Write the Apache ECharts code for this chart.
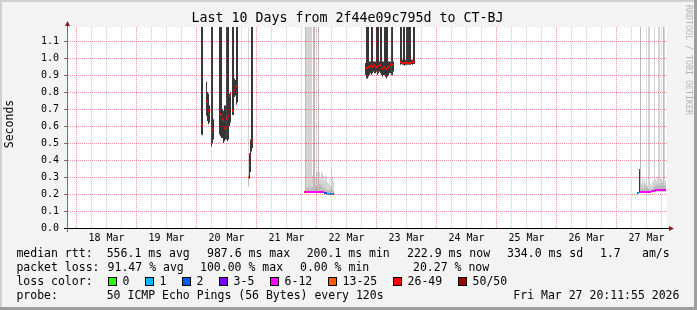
<!DOCTYPE html>
<html><head><meta charset="utf-8">
<script src="https://cdn.jsdelivr.net/npm/echarts@6/dist/echarts.min.js"></script>
<style>html,body{margin:0;padding:0;background:#f3f3f3}#c{width:697px;height:310px}</style>
</head><body><div id="c"></div>
<script>
// ---------------- data ----------------
const titleText = 'Last 10 Days from 2f44e09c795d to CT-BJ';
const yAxisName = 'Seconds';
const windowEndText = 'Fri Mar 27 20:11:55 2026';
const windowHours = 240;            // 10 days, window starts Mar 17 20:11:55
const firstMidnightHour = 3.8014;   // Mar 18 00:00 relative to window start
const stepHours = 0.4;              // one consolidated RRD row = 24 min
const yMax = 1.1824;
const dayLabels = ['18 Mar','19 Mar','20 Mar','21 Mar','22 Mar','23 Mar','24 Mar','25 Mar','26 Mar','27 Mar'];
const yTicks = [0,0.1,0.2,0.3,0.4,0.5,0.6,0.7,0.8,0.9,1.0,1.1];
const lossBins = ['0','1','2','3-5','6-12','13-25','26-49','50/50'];
const lossBinMax = [0,1,2,5,12,25,49,50];
const lossColors = ['#26ff00','#00b8ff','#0059ff','#7e00ff','#ff00ff','#ff5e00','#ff0000','#a10000'];
const rttStatNames = ['avg','max','min','now','sd'];
const rttStats = [556.1, 987.6, 200.1, 222.9, 334.0];
const amPerS = 1.7;
const lossStatNames = ['avg','max','min','now'];
const lossStats = [91.47, 100.00, 0.00, 20.27];
const probeText = '50 ICMP Echo Pings (56 Bytes) every 120s';

// rows: [slot (24-min row index), min rtt, upper-quartile rtt, max rtt, median rtt, lost pings of 50]
const seg19Mar = [
 [134,.55,1.5,1.5,.610,35],[135,.545,1.5,1.5,.608,35],
 [139,.66,.86,.86,.745,35],[140,.63,.80,.80,.740,35],[141,.61,.79,.79,.690,35],[142,.62,.72,.72,.672,35],
 [144,.48,1.5,1.5,.580,35],[145,.50,1.5,1.5,.575,35],[146,.52,.64,.64,.580,35],
 [152,.55,1.5,1.5,.670,35],[153,.54,1.5,1.5,.670,35],[154,.53,1.5,1.5,.665,35],[155,.53,.70,.70,.640,35],
 [156,.50,.69,.69,.630,35],[157,.51,.72,.72,.590,35],[158,.52,.72,.72,.585,35],[159,.52,1.5,1.5,.640,35],
 [160,.51,1.5,1.5,.650,35],[161,.52,1.5,1.5,.660,35],[162,.60,.79,.79,.775,35],[163,.62,.80,.80,.790,35],
 [165,.665,1.5,1.5,.690,35],[166,.665,1.5,1.5,.690,35],[167,.77,.88,.88,.810,35],[168,.78,.87,.87,.835,35],
 [169,.725,1.5,1.5,.830,35],[170,.74,1.5,1.5,.840,35],
 [181,.245,.31,1.5,.300,20],[182,.29,.44,.44,.370,35],[183,.33,.52,.52,.430,35],[184,.45,1.5,1.5,.510,35],
 [185,.47,1.5,1.5,.520,35]
];
const seg21Mar = [
 [237,.209,.216,.216,.212,30],[238,.207,1.5,1.5,.212,8],[239,.207,.24,1.5,.212,8],[240,.207,.23,1.5,.212,8],
 [241,.207,.25,1.5,.212,8],[242,.207,.24,1.5,.212,8],[243,.207,.23,1.5,.212,8],[244,.207,.24,1.5,.212,8],
 [245,.207,.24,.31,.212,8],[246,.207,1.5,1.5,.212,8],[247,.207,1.5,1.5,.212,8],[248,.207,.25,.30,.212,8],
 [249,.207,.24,.32,.212,8],[250,.207,.25,.33,.212,8],[251,.207,1.5,1.5,.212,8],[252,.207,.26,.33,.212,8],
 [253,.207,.25,.29,.212,8],[254,.207,.26,.33,.212,7],[255,.207,.24,.32,.212,7],[256,.207,.23,.31,.212,7],
 [257,.200,.24,.28,.205,2],[258,.200,.23,.31,.205,2],[259,.200,.22,.30,.205,2],[260,.194,.22,.27,.198,1],
 [261,.194,.22,.26,.198,1],[262,.194,.23,.29,.198,1],[263,.194,.22,.25,.198,2],[264,.194,.23,.35,.198,1],
 [265,.194,.22,.30,.198,1],[266,.196,.22,.27,.200,2]
];
const seg22Mar = [
 [298,.90,.97,.97,.942,35],[299,.88,1.5,1.5,.942,35],[300,.88,1.5,1.5,.940,35],[301,.89,1.5,1.5,.945,35],
 [302,.90,.98,.98,.948,35],[303,.91,.98,.98,.955,35],[304,.90,1.5,1.5,.952,35],[305,.91,1.5,1.5,.950,35],
 [306,.92,.98,.98,.955,35],[307,.91,.98,.98,.958,35],[308,.91,.98,.98,.950,35],[309,.92,1.5,1.5,.945,35],
 [310,.90,1.5,1.5,.948,35],[311,.91,1.5,1.5,.955,35],[312,.92,.98,.98,.960,35],[313,.91,1.5,1.5,.958,35],
 [314,.90,1.5,1.5,.940,35],[315,.89,.98,.98,.935,35],[316,.90,.98,.98,.945,35],[317,.90,1.5,1.5,.950,35],
 [318,.89,1.5,1.5,.938,35],[319,.88,1.5,1.5,.936,35],[320,.89,1.5,1.5,.945,35],[321,.90,.98,.98,.940,35],
 [322,.91,.98,.98,.950,35],[323,.91,.98,.98,.958,35],[324,.90,1.5,1.5,.955,35],[325,.90,1.5,1.5,.962,35],
 [326,.92,.98,.98,.958,35],
 [333,.96,1.5,1.5,.978,35],[334,.965,1.5,1.5,.975,35],[335,.96,.99,.99,.972,35],[336,.96,1.5,1.5,.968,35],
 [337,.955,1.5,1.5,.970,35],[338,.96,.99,.99,.968,35],[339,.96,1.5,1.5,.970,35],[340,.96,1.5,1.5,.972,35],
 [341,.96,1.5,1.5,.968,35],[342,.96,1.5,1.5,.970,35],[343,.96,1.5,1.5,.972,35],[344,.965,.99,.99,.975,35],
 [345,.96,.99,.99,.975,35],[346,.965,1.5,1.5,.978,35],[347,.965,1.5,1.5,.978,35]
];
const seg27Mar = [
 [570,.205,.21,.21,.207,2],[571,.203,.212,.212,.205,1],[572,.207,.345,.345,.340,35],[573,.207,1.5,1.5,.212,8],
 [574,.207,.23,.26,.212,8],[575,.207,.24,.30,.212,8],[576,.207,.23,.27,.212,8],[577,.207,.25,.29,.212,8],
 [578,.207,.23,.26,.212,8],[579,.207,.24,.28,.214,8],[580,.207,.24,.25,.214,8],[581,.207,.23,1.5,.214,8],
 [582,.207,.23,1.5,.214,8],[583,.207,.22,.26,.214,8],[584,.210,.23,.25,.215,8],[585,.210,.23,.27,.216,8],
 [586,.212,.24,.28,.220,8],[587,.212,.24,1.5,.220,8],[588,.212,.25,.29,.221,8],[589,.214,.25,.28,.222,8],
 [590,.214,.26,.30,.222,8],[591,.214,.25,1.5,.222,8],[592,.214,.26,1.5,.222,8],[593,.214,.25,.29,.223,8],
 [594,.214,.26,.29,.223,8],[595,.214,.25,.27,.224,8],[596,.214,1.5,1.5,.224,8],[597,.214,.25,1.5,.224,8],
 [598,.214,.25,.28,.224,8]
];

// ---------------- chart ----------------
const MONO = 'DejaVu Sans Mono';
const rows = [].concat(seg19Mar, seg21Mar, seg22Mar, seg27Mar);
function lossColor(n){ for (let i=0;i<lossBinMax.length;i++) if (n<=lossBinMax[i]) return lossColors[i]; return lossColors[lossColors.length-1]; }

const noonHours = dayLabels.map((d,i)=>firstMidnightHour + 12 + 24*i);
const vGrid = [];
for (let k=0; firstMidnightHour + 6*k < windowHours; k++) vGrid.push([firstMidnightHour + 6*k, k%4===0 ? 1 : 0]);
const hGrid = yTicks.filter(v=>v>0).map(v=>[v]);

const MINOR = 'rgba(128,128,128,0.42)';
const MAJOR = 'rgba(230,0,0,0.4)';

function colX(api, s){ return [api.coord([s*stepHours,0])[0], api.coord([(s+1)*stepHours,0])[0]]; }
function yOf(api, v){ return api.coord([0,v])[1]; }

const chart = echarts.init(document.getElementById('c'), null, {renderer:'canvas', width:697, height:310});

const legendRow1 = [];
const r1x = [106.7, 207, 306.7, 407, 507];
rttStats.forEach((v,i)=>legendRow1.push({t: v.toFixed(1)+' ms '+rttStatNames[i], x:r1x[i]}));
legendRow1.push({t: amPerS.toFixed(1), x:600});
legendRow1.push({t: 'am/s', x:642});
const r2x = [107.6, 200, 300, 413];
const legendRow2 = lossStats.map((v,i)=>({t: v.toFixed(2)+' % '+lossStatNames[i], x:r2x[i]}));

const graphic = [];
function txt(t, x, y, size, align){
  graphic.push({type:'text', x:x, y:y, z:100, silent:true,
    style:{text:t, fontFamily:MONO, fontSize:size, fill:'#000', align:align||'left', verticalAlign:'middle'}});
}
// frame
graphic.push({type:'rect', z:-10, silent:true, shape:{x:0,y:0,width:697,height:310}, style:{fill:'#f3f3f3'}});
graphic.push({type:'rect', z:-9, silent:true, shape:{x:0,y:0,width:697,height:2}, style:{fill:'#cfcfcf'}});
graphic.push({type:'rect', z:-9, silent:true, shape:{x:0,y:0,width:2,height:310}, style:{fill:'#cfcfcf'}});
graphic.push({type:'rect', z:-9, silent:true, shape:{x:0,y:307,width:697,height:3}, style:{fill:'#9e9e9e'}});
graphic.push({type:'rect', z:-9, silent:true, shape:{x:694,y:0,width:3,height:310}, style:{fill:'#9e9e9e'}});
graphic.push({type:'rect', z:-8, silent:true, shape:{x:67,y:27,width:600,height:201}, style:{fill:'#ffffff'}});
// axes + arrows
graphic.push({type:'rect', z:90, silent:true, shape:{x:67,y:24,width:1,height:208}, style:{fill:'#6e6e6e'}});
graphic.push({type:'rect', z:90, silent:true, shape:{x:64,y:228,width:606,height:1}, style:{fill:'#000'}});
graphic.push({type:'polygon', z:91, silent:true, shape:{points:[[65,26],[70,26],[67.5,21]]}, style:{fill:'#8b1a1a'}});
graphic.push({type:'polygon', z:91, silent:true, shape:{points:[[669,226],[669,231],[674,228.5]]}, style:{fill:'#8b1a1a'}});
// title, axis name, watermark
txt(titleText, 347.5, 19, 13.3, 'center');
graphic.push({type:'text', x:10, y:124, rotation:Math.PI/2, z:100, silent:true,
  style:{text:yAxisName, fontFamily:MONO, fontSize:11.5, fill:'#000', align:'center', verticalAlign:'middle'}});
graphic.push({type:'text', x:688, y:5, rotation:-Math.PI/2, z:100, silent:true,
  style:{text:'RRDTOOL / TOBI OETIKER', fontFamily:MONO, fontSize:8.3, fill:'#b4b4b4', align:'left', verticalAlign:'middle'}});
// legend
const LF = 11.5;
txt('median rtt:', 16.4, 254, LF);
legendRow1.forEach(e=>txt(e.t, e.x, 254, LF));
txt('packet loss:', 16.4, 268, LF);
legendRow2.forEach(e=>txt(e.t, e.x, 268, LF));
txt('loss color:', 16.4, 282, LF);
let bx = 108;
lossBins.forEach((b,i)=>{
  graphic.push({type:'rect', z:100, silent:true, shape:{x:bx,y:277,width:9,height:9}, style:{fill:'#000'}});
  graphic.push({type:'rect', z:101, silent:true, shape:{x:bx+1,y:278,width:7,height:7}, style:{fill:lossColors[i]}});
  const tx = bx + 14.6;
  txt(b, tx, 282, LF);
  bx = Math.round(tx + b.length*6.95 + 15.4);
});
txt('probe:', 16.4, 296, LF);
txt(probeText, 106.7, 296, LF);
txt(windowEndText, 513.3, 296, LF);

const option = {
  animation:false,
  backgroundColor:'#f3f3f3',
  grid:{left:67, top:27, width:600, height:201, containLabel:false},
  xAxis:{type:'value', min:0, max:windowHours, axisLine:{show:false}, axisTick:{show:false}, splitLine:{show:false},
    axisLabel:{customValues:noonHours, formatter:(v)=>dayLabels[Math.round((v-firstMidnightHour-12)/24)],
      fontFamily:MONO, fontSize:10, color:'#000', margin:5}},
  yAxis:{type:'value', min:0, max:yMax, axisLine:{show:false}, splitLine:{show:false},
    axisTick:{show:true, customValues:yTicks, length:3, lineStyle:{color:'#6e6e6e'}},
    axisLabel:{customValues:yTicks, formatter:(v)=>v.toFixed(1), fontFamily:MONO, fontSize:10, color:'#000', margin:8}},
  graphic: graphic,
  series:[
    {type:'custom', name:'smoke', coordinateSystem:'cartesian2d', clip:true, z:2, data:rows,
     renderItem:function(params, api){
       const s=api.value(0), lo=api.value(1), q=api.value(2), hi=api.value(3), lost=api.value(5);
       const xs=colX(api,s), w=xs[1]-xs[0];
       const yl=yOf(api,lo), yh=yOf(api,hi), yq=yOf(api,q);
       const ch=[];
       if (lost>=26) {
         ch.push({type:'rect', shape:{x:xs[0],y:yh,width:w,height:yl-yh}, style:{fill:'#363636'}});
       } else {
         ch.push({type:'rect', shape:{x:xs[0],y:yh,width:w,height:yl-yh}, style:{fill:'#d4d4d4'}});
         ch.push({type:'rect', shape:{x:xs[0],y:yq,width:w,height:yl-yq}, style:{fill:'#bababa'}});
       }
       return {type:'group', children:ch};
     }},
    {type:'custom', name:'median', coordinateSystem:'cartesian2d', clip:true, z:3, data:rows,
     renderItem:function(params, api){
       const s=api.value(0), med=api.value(4), lost=api.value(5);
       const xs=colX(api,s);
       const ym=Math.round(yOf(api,med));
       return {type:'rect', shape:{x:xs[0],y:ym-1,width:xs[1]-xs[0],height:2}, style:{fill:lossColor(lost)}};
     }},
    {type:'custom', name:'vgrid', coordinateSystem:'cartesian2d', clip:false, z:4, silent:true, data:vGrid,
     renderItem:function(params, api){
       const x=Math.floor(api.coord([api.value(0),0])[0]);
       const top=Math.round(api.coord([0,yMax])[1]), bot=Math.round(api.coord([0,0])[1]);
       const color=api.value(1)?MAJOR:MINOR;
       const ch=[];
       for (let y=top; y<bot; y+=2) ch.push({type:'rect', shape:{x:x,y:y,width:1,height:1}, style:{fill:color}});
       return {type:'group', children:ch};
     }},
    {type:'custom', name:'hgrid', coordinateSystem:'cartesian2d', clip:false, z:4, silent:true, data:hGrid,
     renderItem:function(params, api){
       const y=Math.floor(api.coord([0,api.value(0)])[1]);
       const l=Math.round(api.coord([0,0])[0])+1, r=Math.round(api.coord([windowHours,0])[0]);
       const ch=[];
       for (let x=l; x<r; x+=2) ch.push({type:'rect', shape:{x:x,y:y,width:1,height:1}, style:{fill:MAJOR}});
       return {type:'group', children:ch};
     }}
  ]
};
chart.setOption(option);
</script></body></html>
